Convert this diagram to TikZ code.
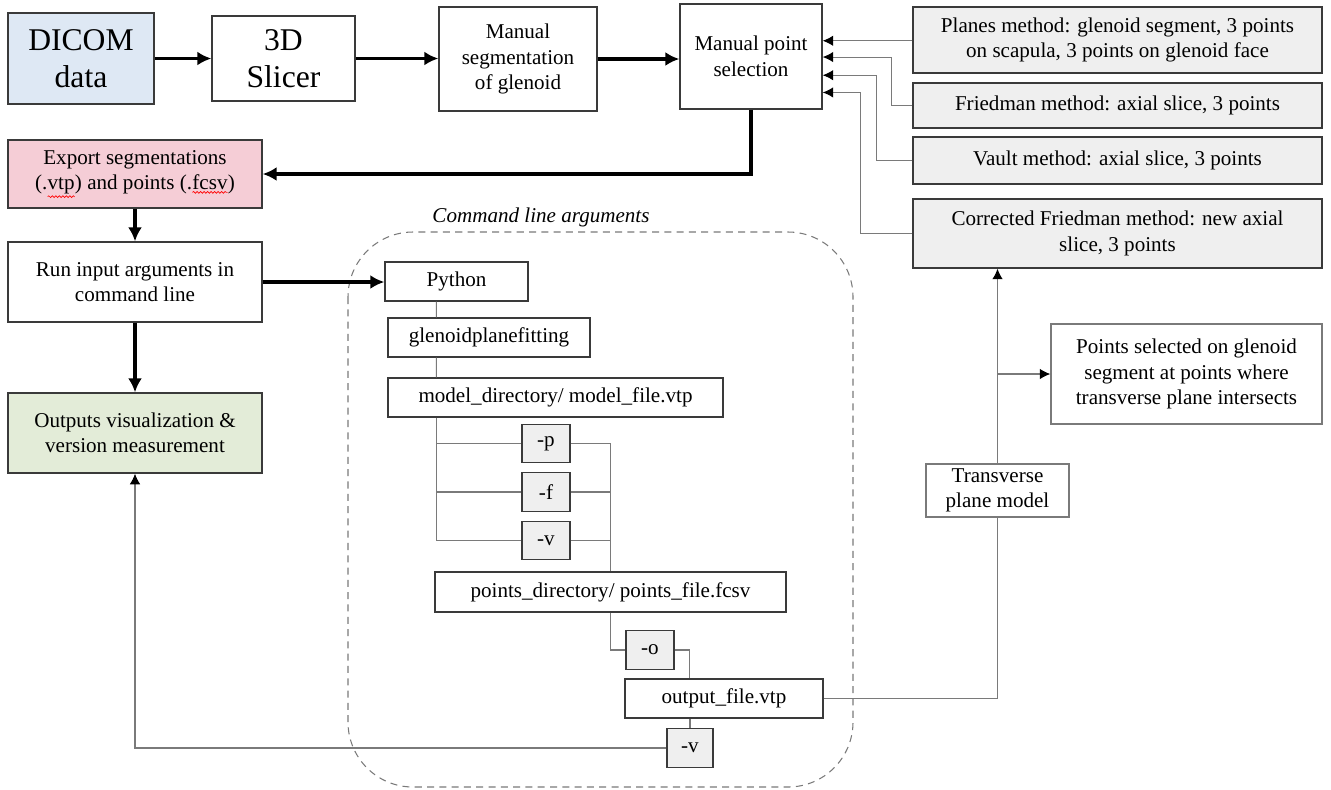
\documentclass[tikz,border=0pt]{standalone}
\usepackage{fontspec}
\setmainfont{Liberation Serif}
\usepackage{tikz}
\usetikzlibrary{arrows.meta, calc, decorations.pathmorphing}

\definecolor{dicomblue}{HTML}{DEE8F4}
\definecolor{exportpink}{HTML}{F5CDD6}
\definecolor{outgreen}{HTML}{E3ECD8}
\definecolor{methodgray}{HTML}{EFEFEF}
\definecolor{linegray}{HTML}{7A7A7A}
\definecolor{boxedge}{HTML}{3A3A3A}

% red spell-check squiggle under a word
\newcommand{\spellmark}[1]{\tikz[baseline=(sm.base), x=1cm, y=1cm]{\node[inner sep=0pt, outer sep=0pt, minimum width=0pt, minimum height=0pt, draw=none, fill=none] (sm) {#1};
  \draw[red, line width=0.4pt, decorate, decoration={snake, amplitude=0.5pt, segment length=2pt}] ([yshift=-1.5pt]sm.south west) -- ([yshift=-1.5pt]sm.south east);}}

\begin{document}
\begin{tikzpicture}[x=0.02cm, y=-0.02cm,
    box/.style={draw=boxedge, line width=0.8pt, align=center, inner sep=2pt, font=\fontsize{12}{14.5}\selectfont},
    bigbox/.style={box, font=\fontsize{18}{21}\selectfont},
    method/.style={box, fill=methodgray, minimum width=8.18cm},
    argbox/.style={box, minimum height=0.78cm},
    flag/.style={box, fill=methodgray, minimum width=0.96cm, minimum height=0.77cm},
    softbox/.style={box, draw=linegray},
    flow/.style={line width=2pt, -{Latex[length=8pt,width=8pt]}},
    link/.style={linegray, line width=0.6pt},
    linkarrow/.style={link, -{Latex[black,length=6pt,width=6pt]}}]
    \useasboundingbox (0,0) rectangle (1331,789);

    % top row
    \node[bigbox, fill=dicomblue, minimum width=2.92cm, minimum height=1.82cm] (dicom) at (81,58.5) {DICOM\\data};
    \node[bigbox, minimum width=2.86cm, minimum height=1.70cm] (slicer) at (283.5,58.5) {3D\\Slicer};
    \node[box, minimum width=3.16cm, minimum height=2.08cm] (manseg) at (518,59) {Manual\\segmentation\\of glenoid};
    \node[box, minimum width=2.84cm, minimum height=2.10cm] (mps) at (751,56.5) {Manual point\\selection};

    % methods
    \node[method, minimum height=1.32cm] (planes) at (1117.5,40) {Planes method: glenoid segment, 3 points\\on scapula, 3 points on glenoid face};
    \node[method, minimum height=0.90cm] (friedman) at (1117.5,105.5) {Friedman method: axial slice, 3 points};
    \node[method, minimum height=0.94cm] (vault) at (1117.5,160.5) {Vault method: axial slice, 3 points};
    \node[method, minimum height=1.38cm] (corrected) at (1117.5,233.5) {Corrected Friedman method: new axial\\slice, 3 points};

    % left column
    \node[box, fill=exportpink, minimum width=5.08cm, minimum height=1.36cm] (export) at (135,174) {Export segmentations\\(.\spellmark{vtp}) and points (.\spellmark{fcsv})};
    \node[box, minimum width=5.08cm, minimum height=1.60cm] (run) at (135,282) {Run input arguments in\\command line};
    \node[box, fill=outgreen, minimum width=5.08cm, minimum height=1.60cm] (outputs) at (135,433) {Outputs visualization \&\\version measurement};

    % command line arguments
    \draw[linegray, line width=0.6pt, dash pattern=on 4pt off 3pt, rounded corners=1.3cm] (348,232) rectangle (853,787);
    \node[font=\fontsize{12}{14}\selectfont\itshape] (cmdtitle) at (541,217) {Command line arguments};
    \node[argbox, minimum width=2.86cm] (python) at (456.5,281.5) {Python};
    \node[argbox, minimum width=4.04cm] (gpf) at (489,337.5) {glenoidplanefitting};
    \node[argbox, minimum width=6.70cm] (model) at (555.5,397.5) {model\_directory/ model\_file.vtp};
    \node[flag] (p) at (546,443.5) {-p};
    \node[flag] (f) at (546,492) {-f};
    \node[flag] (v) at (546,540.5) {-v};
    \node[argbox, minimum width=7.02cm, minimum height=0.80cm] (pts) at (610.5,592) {points\_directory/ points\_file.fcsv};
    \node[flag] (o) at (650,650) {-o};
    \node[argbox, minimum width=3.96cm] (out) at (724,698.5) {output\_file.vtp};
    \node[flag, minimum width=0.92cm] (v2) at (690,748) {-v};

    % right side
    \node[softbox, minimum width=2.86cm, minimum height=1.06cm] (trans) at (997.5,490.5) {Transverse\\plane model};
    \node[softbox, minimum width=5.42cm, minimum height=2.00cm] (sel) at (1186.5,374) {Points selected on glenoid\\segment at points where\\transverse plane intersects};

    % main flow
    \draw[flow] (dicom.east) -- (slicer.west);
    \draw[flow] (slicer.east) -- (manseg.west |- slicer.east);
    \draw[flow] (manseg.east) -- (mps.west |- manseg.east);
    \draw[flow] (mps.south) |- (export.east);
    \draw[flow] (export.south) -- (run.north);
    \draw[flow] (run.south) -- (outputs.north);
    \draw[flow] (run.east) -- (python.west |- run.east);

    % methods into point selection
    \coordinate (mpsA) at ($(mps.north east)!0.352!(mps.south east)$);
    \coordinate (mpsB) at ($(mps.north east)!0.505!(mps.south east)$);
    \coordinate (mpsC) at ($(mps.north east)!0.676!(mps.south east)$);
    \coordinate (mpsD) at ($(mps.north east)!0.838!(mps.south east)$);
    \draw[linkarrow] (planes.west |- mpsA) -- (mpsA);
    \draw[linkarrow] (friedman.west) -- ++(-21,0) |- (mpsB);
    \draw[linkarrow] (vault.west) -- ++(-36,0) |- (mpsC);
    \draw[linkarrow] (corrected.west) -- ++(-52,0) |- (mpsD);

    % argument tree
    \draw[link] ($(python.south west)+(52,0)$) -- ($(gpf.north west)+(49,0)$);
    \draw[link] ($(gpf.south west)+(49,0)$) -- ($(model.north west)+(49,0)$);
    \coordinate (trunk) at ($(model.south west)+(49,0)$);
    \draw[link] (trunk) |- (v.west);
    \draw[link] (trunk |- p.west) -- (p.west);
    \draw[link] (trunk |- f.west) -- (f.west);
    \draw[link] (p.east) -| (pts.north);
    \draw[link] (f.east) -- (f.east -| pts.north);
    \draw[link] (v.east) -- (v.east -| pts.north);
    \draw[link] (pts.south) |- (o.west);
    \coordinate (tap) at ($(out.north west)+(65,0)$);
    \draw[link] (o.east) -| (tap);
    \draw[link] (v2.north) -- (v2.north |- out.south);
    \draw[linkarrow] (v2.west) -| (outputs.south);

    % transverse plane
    \draw[link] (out.east) -| (trans.south);
    \draw[linkarrow] (trans.north) -- (trans.north |- corrected.south);
    \draw[linkarrow] (trans.north |- sel.west) -- (sel.west);
\end{tikzpicture}
\end{document}
